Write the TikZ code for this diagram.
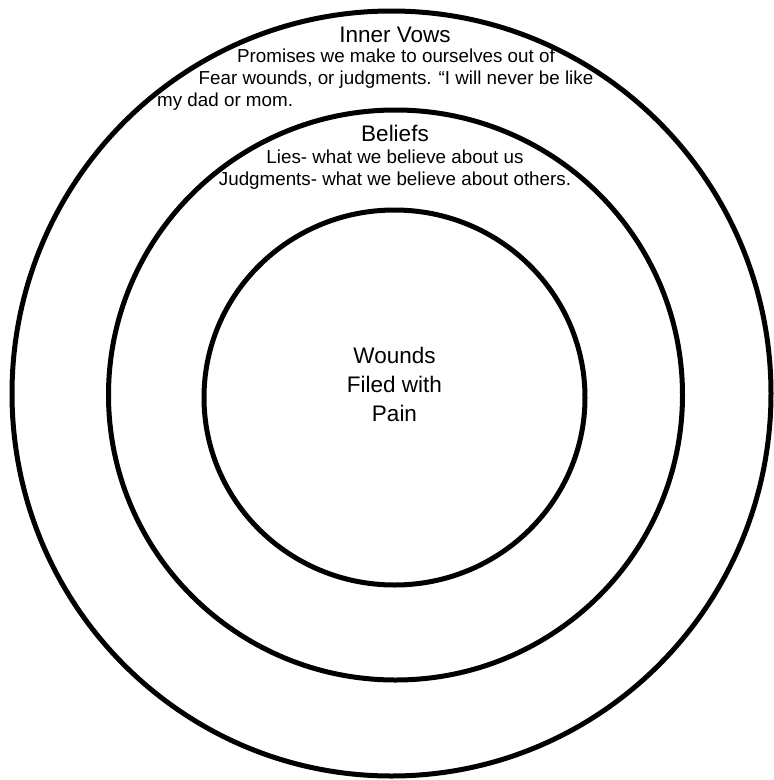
\documentclass[tikz,border=0pt]{standalone}
\usepackage{fontspec}
\setmainfont{Liberation Sans}
\usetikzlibrary{positioning}

\tikzset{
  ring/.style={draw=black, line width=5pt},
  ringtitle/.style={font=\fontsize{22.5pt}{29pt}\selectfont, inner sep=0pt, align=center},
  ringnote/.style={font=\fontsize{18.8pt}{21.5pt}\selectfont, inner sep=0pt, align=center},
}

\begin{document}
\begin{tikzpicture}[x=1pt, y=-1pt]
  \useasboundingbox (0,0) rectangle (774,780);

  % three rings, outside in
  \draw[ring] (391.5,393.5) ellipse [x radius=379.5, y radius=382.5];
  \draw[ring] (395.5,395) ellipse [x radius=287, y radius=285];
  \draw[ring] (394.5,397.5) ellipse [x radius=190.5, y radius=187.5];

  % outer ring (base = last line)
  \node[ringtitle, anchor=base] (vows) at (395,42) {Inner Vows};
  \node[ringnote, anchor=base] (vowsnote) at (396,84)
    {Promises we make to ourselves out of\\Fear wounds, or judgments. “I will never be like};
  \node[ringnote, anchor=base west] (vowsend) at (157,106) {my dad or mom.};

  % middle ring
  \node[ringtitle, anchor=base] (beliefs) at (395,141) {Beliefs};
  \node[ringnote, anchor=base] (beliefsnote) at (395,185)
    {Lies- what we believe about us\\Judgments- what we believe about others.};

  % core
  \node[ringtitle, anchor=base] (wounds) at (394.5,421.5) {Wounds\\Filed with\\Pain};
\end{tikzpicture}
\end{document}
